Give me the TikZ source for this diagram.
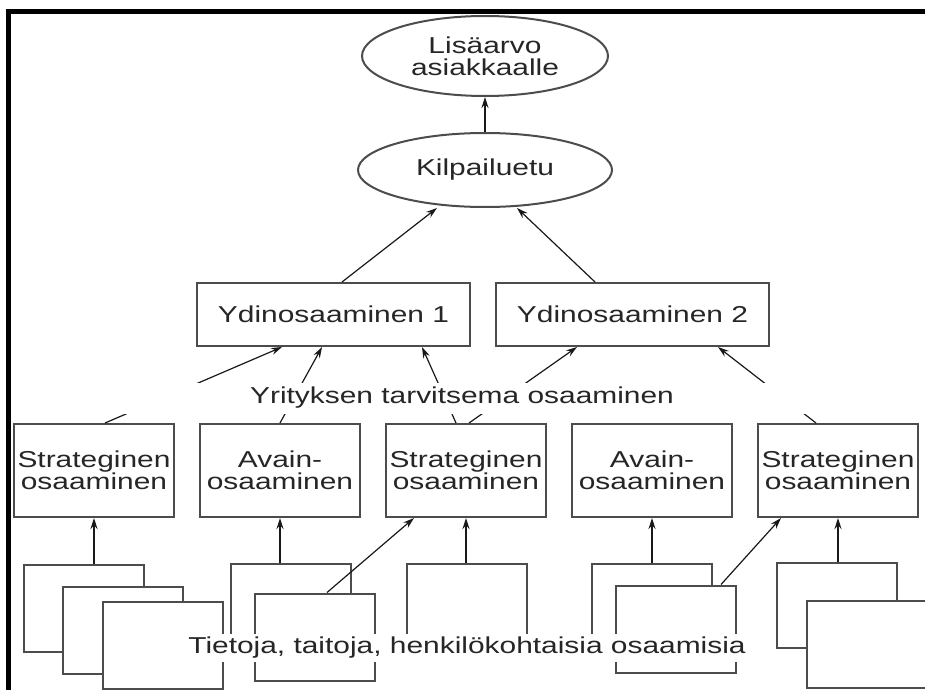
\documentclass[tikz,border=0pt]{standalone}
\usepackage{fontspec}
\setmainfont{Liberation Sans}[FakeStretch=1.3]
\usepackage{tikz}
\usetikzlibrary{positioning, shapes.geometric, arrows.meta}

\begin{document}
\begin{tikzpicture}[x=1pt, y=-1pt,
    every node/.style={inner sep=0pt, align=center, text=black!85, font=\fontsize{23}{22}\selectfont},
    oval/.style={draw=black!70, line width=2pt, ellipse},
    ydinbox/.style={draw=black!70, line width=2pt, rectangle, minimum width=273pt, minimum height=63pt},
    osabox/.style={draw=black!70, line width=2pt, rectangle, minimum width=160pt, minimum height=93pt},
    paper/.style={draw=black!70, line width=2pt, rectangle, fill=white, minimum width=120pt, minimum height=87pt},
    arrow/.style={->, >={Stealth[length=11pt, width=7pt]}, line width=1.2pt, black!90}
  ]
    \useasboundingbox (0,0) rectangle (925,690);
    \clip (0,0) rectangle (925,690);
    \fill (6,9) rectangle (925,14);
    \fill (6,9) rectangle (11,690);

    % top
    \node[oval, minimum width=254pt, minimum height=74pt] (kilpailu) at (485,170) {Kilpailuetu};
    \node[oval, minimum width=246pt, minimum height=80pt] (lisaarvo) [above=35pt of kilpailu] {Lisäarvo\\asiakkaalle};

    \node[ydinbox] (ydin1) at (333.5,314.5) {Ydinosaaminen 1};
    \node[ydinbox] (ydin2) [right=24pt of ydin1] {Ydinosaaminen 2};

    % competences
    \node[osabox] (s1) at (94,470.5) {Strateginen\\osaaminen};
    \node[osabox] (a1) [right=24pt of s1] {Avain-\\osaaminen};
    \node[osabox] (s2) [right=24pt of a1] {Strateginen\\osaaminen};
    \node[osabox] (a2) [right=24pt of s2] {Avain-\\osaaminen};
    \node[osabox] (s3) [right=24pt of a2] {Strateginen\\osaaminen};

    % papers
    \node[paper] (p1a) at (84,608) {};
    \node[paper] (p1b) at (122.5,630.5) {};
    \node[paper] (p1c) at (162.5,645) {};
    \node[paper] (p2a) at (290.5,607.5) {};
    \node[paper] (p2b) at (315,637) {};
    \node[paper] (p3a) at (467,607.5) {};
    \node[paper] (p4a) at (651.5,607.5) {};
    \node[paper] (p4b) at (675.5,629) {};
    \node[paper, minimum height=85pt] (p5a) at (836.5,605.5) {};
    \node[paper, minimum width=128pt] (p5b) at (871,644.5) {};

    \draw[arrow] (kilpailu.north) -- (lisaarvo.south);
    \draw[arrow] ([xshift=8.5pt]ydin1.north) -- ([xshift=-48pt]kilpailu.south);
    \draw[arrow] ([xshift=-37.5pt]ydin2.north) -- ([xshift=32pt]kilpailu.south);

    \draw[arrow] ([xshift=11pt]s1.north) -- ([xshift=-51.5pt]ydin1.south);
    \draw[arrow] (a1.north) -- ([xshift=-11.5pt]ydin1.south);
    \draw[arrow] ([xshift=-10pt]s2.north) -- ([xshift=88.5pt]ydin1.south);
    \draw[arrow] ([xshift=3pt]s2.north) -- ([xshift=-55.5pt]ydin2.south);
    \draw[arrow] ([xshift=-22pt]s3.north) -- ([xshift=85.5pt]ydin2.south);

    \draw[arrow] (p1a.north -| s1.south) -- (s1.south);
    \draw[arrow] (p2a.north -| a1.south) -- (a1.south);
    \draw[arrow] (p3a.north -| s2.south) -- (s2.south);
    \draw[arrow] (p4a.north -| a2.south) -- (a2.south);
    \draw[arrow] (p5a.north -| s3.south) -- (s3.south);
    \draw[arrow] ([xshift=12pt]p2b.north) -- ([xshift=-52pt]s2.south);
    \draw[arrow] ([xshift=45.5pt]p4b.north) -- ([xshift=-57pt]s3.south);

    % labels
    \node[fill=white, minimum width=880pt, minimum height=31pt] (tarve) at (462,398) {Yrityksen tarvitsema osaaminen};
    \node[fill=white, inner xsep=3pt, inner ysep=3pt] (tiedot) at (467,648) {Tietoja, taitoja, henkilökohtaisia osaamisia};
  \end{tikzpicture}
\end{document}
